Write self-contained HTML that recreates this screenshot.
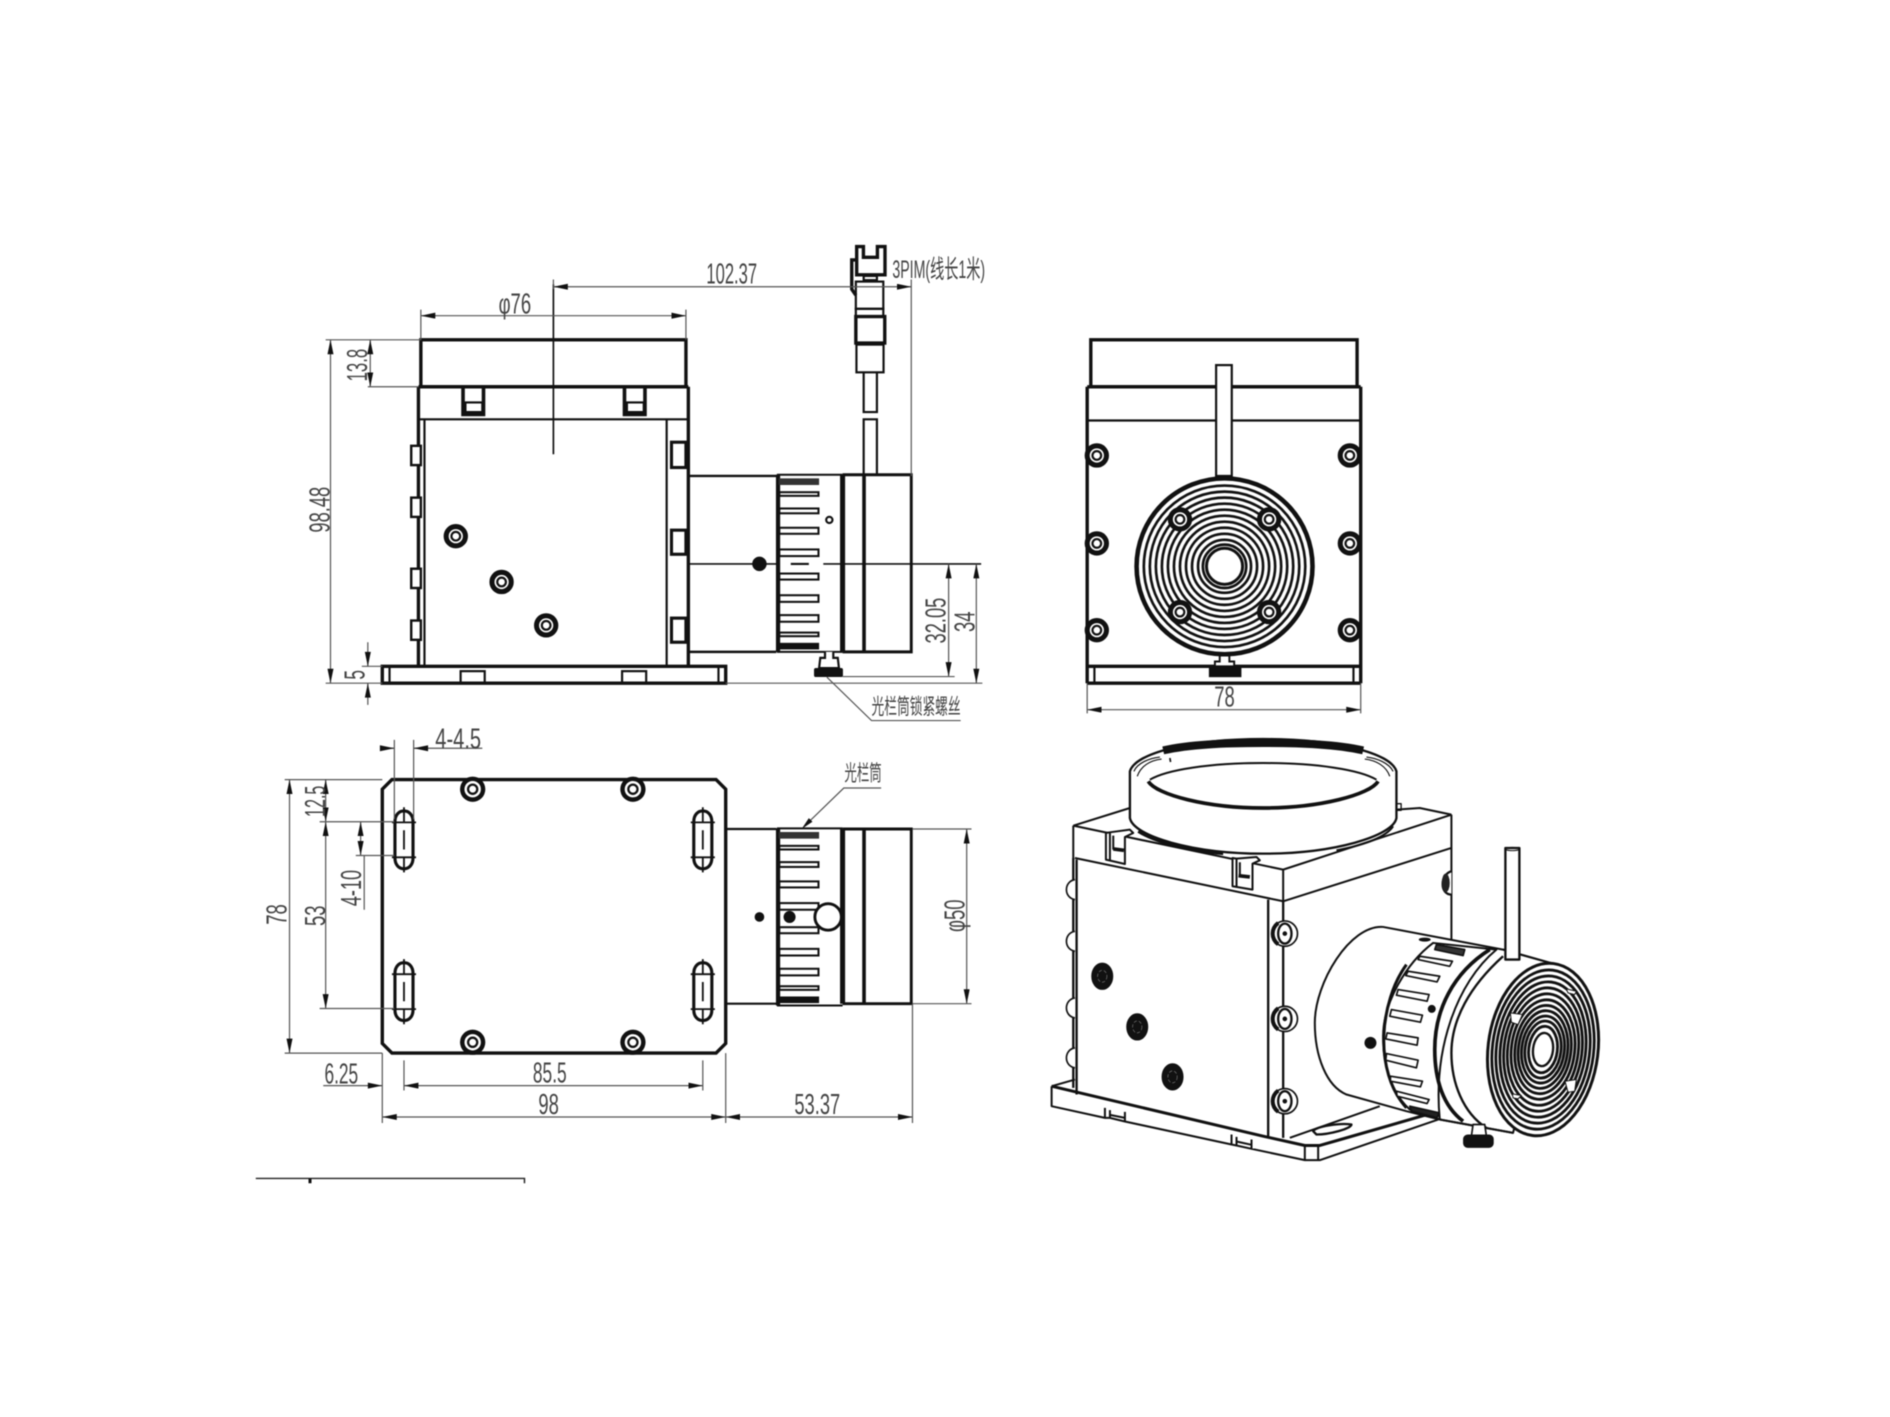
<!DOCTYPE html>
<html><head><meta charset="utf-8"><style>
html,body{margin:0;padding:0;background:#fff}
svg{display:block;filter:blur(.45px)}
text{font-family:"Liberation Sans","Noto Sans CJK SC",sans-serif;fill:#444;font-size:24px;text-anchor:middle;dominant-baseline:middle}
.t{stroke:#111;stroke-width:2.8;fill:none}
.m{stroke:#111;stroke-width:1.8;fill:none}
.d{stroke:#555;stroke-width:1;fill:none}
.a{stroke:#555;stroke-width:1;fill:none;marker-start:url(#ar);marker-end:url(#ar)}
.w{fill:#fff}
</style></head><body>
<svg width="1890" height="1417" viewBox="0 0 1568 1176" xmlns="http://www.w3.org/2000/svg">
<defs>
<marker id="ar" markerUnits="userSpaceOnUse" markerWidth="13" markerHeight="6" refX="12" refY="2.5" orient="auto-start-reverse"><path d="M0,0L12,2.5L0,5z" fill="#111"/></marker>
<g id="s"><circle r="8" fill="#fff" stroke="#111" stroke-width="4.2"/><circle r="3.6" fill="#fff" stroke="#111" stroke-width="1.8"/></g>
<g id="p"><circle r="10.5" fill="#111"/><circle r="6.8" fill="#fff"/><circle r="3.8" fill="#fff" stroke="#111" stroke-width="1.9"/></g>
<g id="k">
<path d="M644.5,394V541M644.5,394H699M644.5,541H699" fill="none" stroke="#111" stroke-width="1.6"/>
<path d="M645.5,394V541" stroke="#111" stroke-width="3.4"/>
<rect x="646" y="397" width="33.5" height="5.5" fill="#333"/><rect x="646" y="533.5" width="33.5" height="5.5" fill="#111"/>
<g fill="#fff" stroke="#111" stroke-width="1.7">
<rect x="646.5" y="408.5" width="32.5" height="3"/><rect x="646.5" y="422" width="32.5" height="4"/><rect x="646.5" y="438" width="32.5" height="5"/><rect x="646.5" y="456" width="32.5" height="5.5"/><rect x="646.5" y="476" width="32.5" height="5"/><rect x="646.5" y="494" width="32.5" height="5.5"/><rect x="646.5" y="510.5" width="32.5" height="5.5"/><rect x="646.5" y="525" width="32.5" height="3"/></g>
</g>
<g id="sl"><path d="M-7.5,-15C-7.5,-21 -4,-24 0,-24C4,-24 7.5,-21 7.5,-15V15C7.5,21 4,24 0,24C-4,24 -7.5,21 -7.5,15Z" fill="#fff" stroke="#111" stroke-width="2.6"/>
<path d="M0,-27V-15M0,-8V8M0,15V27M-10,-14.5H10M-10,14.5H10" stroke="#111" stroke-width="1.5"/></g>
<g id="es"><ellipse rx="38" ry="38" fill="#fff" stroke="#111" stroke-width="5"/><path d="M-20,-32C-42,-15 -42,15 -20,32" fill="none" stroke="#111" stroke-width="12"/><ellipse rx="20" ry="30" fill="#fff" stroke="#111" stroke-width="7"/><circle r="4" fill="#111"/></g>
<g id="fs"><ellipse rx="30" ry="38" fill="#111"/><ellipse rx="14" ry="18" fill="none" stroke="#777" stroke-width="2" stroke-dasharray="10 6"/></g>
<g id="bp"><path d="M30,-30C-4,-25 -4,25 30,30" fill="#fff" stroke="#111" stroke-width="5"/></g>
</defs>

<!-- FRONT VIEW -->
<rect x="349" y="282" width="220" height="39" class="t"/>
<path class="t" stroke-width="3" d="M347,321H571M347,321V553M571,321V553"/>
<path class="m" d="M352,348V553M553,348V553M347,348H571"/>
<path stroke="#111" stroke-width="3" fill="none" d="M384,322V344H401V322M518,322V344H535V322"/>
<rect x="386" y="334" width="14" height="8" class="m"/><rect x="520" y="334" width="14" height="8" class="m"/>
<path d="M459,236V377" stroke="#111" stroke-width="1.4"/>
<g stroke="#111" stroke-width="2" fill="#fff"><rect x="341" y="370" width="8" height="16"/><rect x="341" y="413" width="8" height="16"/><rect x="341" y="472" width="8" height="16"/><rect x="341" y="515" width="8" height="16"/>
<rect x="557" y="367" width="12" height="21" stroke-width="2.6"/><rect x="557" y="440" width="12" height="20" stroke-width="2.6"/><rect x="557" y="513" width="12" height="20" stroke-width="2.6"/></g>
<use href="#s" x="378" y="445"/><use href="#s" x="416" y="483"/><use href="#s" x="453" y="519"/>
<rect x="317" y="553" width="285" height="14" class="t"/>
<path class="m" d="M323,553V567M596,553V567"/>
<rect x="382" y="557" width="20" height="10" class="m" stroke-width="2.2"/><rect x="516" y="557" width="20" height="10" class="m" stroke-width="2.2"/>
<path fill="none" stroke="#111" stroke-width="2" d="M571,395H644M571,541H644"/>
<use href="#k"/>
<path d="M699,394V541" stroke="#111" stroke-width="4.2"/><path d="M716.8,394V541" stroke="#111" stroke-width="3"/>
<path d="M699,394H756V541H699" fill="none" stroke="#111" stroke-width="2.4"/>
<path d="M571,468H645M683,468H814" stroke="#111" stroke-width="1.3"/><path d="M656,468H671" stroke="#111" stroke-width="1.8"/>
<circle cx="630" cy="468" r="6" fill="#111"/><circle cx="688" cy="431.5" r="2.6" fill="#fff" stroke="#111" stroke-width="1.8"/>
<path d="M684.4,541V546H680.5L679.5,554.5H696L695,546H691.3V541" fill="#fff" stroke="#111" stroke-width="1.8"/><rect x="675.3" y="554.4" width="24" height="7.5" rx="1.5" fill="#111"/>
<g class="m" stroke-width="2.2">
<path class="m" stroke-width="2.2" d="M716.5,309V342H727.5V309M716.5,393V348H727.5V393"/>
<rect x="710.5" y="286" width="22.5" height="23" class="m"/><rect x="710" y="233.7" width="22.8" height="22.6" class="m"/><rect x="710" y="256.3" width="22.8" height="6.4" class="m"/><rect x="710" y="262.7" width="24" height="22" class="t" stroke-width="2.4"/>
<path class="t" stroke-width="2.3" d="M710.7,204.6H716.3V213.5H727.9V204.6H734.2V228.1H710.7Z"/><rect x="716.5" y="229" width="11" height="3.5" class="m"/>
<path class="t" stroke-width="2.2" d="M710,215.7H706.6V240L710,245"/></g>
<path class="a" d="M459,238H756"/><path class="d" d="M459,232V240M756,232V395"/>
<text x="607" y="229" textLength="42" lengthAdjust="spacingAndGlyphs">102.37</text>
<text x="778.8" y="225" textLength="77" lengthAdjust="spacingAndGlyphs" style="font-size:21px">3PIM(线长1米)</text>
<path class="a" d="M349,262H569"/><path class="d" d="M349,257V282M569,257V282"/>
<text x="427" y="254" textLength="27" lengthAdjust="spacingAndGlyphs">φ76</text>
<path class="a" d="M274,282V567"/><path class="d" d="M270,282H349M270,567H317"/>
<text transform="rotate(-90 267 423)" x="267" y="423" textLength="38" lengthAdjust="spacingAndGlyphs">98.48</text>
<path class="a" d="M307,282V321"/><path class="d" d="M305,321H347"/>
<text transform="rotate(-90 298 303)" x="298" y="303" textLength="27" lengthAdjust="spacingAndGlyphs">13.8</text>
<path class="d" d="M305,533V553M305,567V585M300,553H317"/><path d="M305,553l-2.5,-12h5zM305,567l-2.5,12h5z" fill="#111"/>
<text transform="rotate(-90 296 560)" x="296" y="560" textLength="8" lengthAdjust="spacingAndGlyphs">5</text>
<path class="a" d="M787,468V561.5"/><path class="d" d="M699,561.5H792M602,567H815"/>
<text transform="rotate(-90 778 515)" x="778" y="515" textLength="38" lengthAdjust="spacingAndGlyphs">32.05</text>
<path class="a" d="M810,468V567"/>
<text transform="rotate(-90 802 516)" x="802" y="516" textLength="17" lengthAdjust="spacingAndGlyphs">34</text>
<path class="d" d="M686,562L723,598H797"/>
<text x="760" y="588" textLength="74" lengthAdjust="spacingAndGlyphs" style="font-size:18px">光栏筒锁紧螺丝</text>

<!-- SIDE VIEW -->
<rect x="905" y="282" width="221" height="39" class="t"/>
<path class="t" d="M902,321H1129M902,321V567M1129,321V567"/>
<path class="m" d="M902,349H1129"/>
<g fill="none" stroke="#111" stroke-width="2.2">
<circle cx="1016" cy="470" r="73" stroke-width="3.8"/><circle cx="1016" cy="470" r="67"/><circle cx="1016" cy="470" r="62"/><circle cx="1016" cy="470" r="57"/><circle cx="1016" cy="470" r="52"/><circle cx="1016" cy="470" r="47"/><circle cx="1016" cy="470" r="42"/><circle cx="1016" cy="470" r="37"/><circle cx="1016" cy="470" r="32"/><circle cx="1016" cy="470" r="27"/><circle cx="1016" cy="470" r="22"/><circle cx="1016" cy="470" r="18"/></g>
<circle cx="1016" cy="470" r="15" fill="#fff" stroke="#111" stroke-width="2.5"/>
<use href="#s" x="979" y="431"/><use href="#s" x="1053" y="431"/><use href="#s" x="979" y="508"/><use href="#s" x="1053" y="508"/>
<use href="#s" x="910" y="378"/><use href="#s" x="910" y="451"/><use href="#s" x="910" y="523"/><use href="#s" x="1120" y="378"/><use href="#s" x="1120" y="451"/><use href="#s" x="1120" y="523"/>
<rect x="1009" y="303" width="13" height="92" fill="#fff" stroke="#111" stroke-width="1.8"/>
<path class="t" d="M902,553H1129M902,567H1129"/><path class="m" d="M908,553V567M1123,553V567"/>
<path d="M1012,544H1020V549H1024V553H1008V549H1012Z" fill="#fff" stroke="#111" stroke-width="1.6"/><rect x="1003" y="553" width="27" height="9" fill="#111"/>
<path class="a" d="M902,589H1129"/><path class="d" d="M902,567V592M1129,567V592"/>
<text x="1016" y="580" textLength="17" lengthAdjust="spacingAndGlyphs">78</text>

<!-- PLAN VIEW -->
<path class="t" d="M325,647H594L602,655V866L594,874H325L317,866V655Z"/>
<use href="#sl" x="335" y="697"/><use href="#sl" x="583" y="697"/><use href="#sl" x="335" y="823"/><use href="#sl" x="583" y="823"/>
<use href="#p" x="392" y="655"/><use href="#p" x="525" y="655"/><use href="#p" x="392" y="865"/><use href="#p" x="525" y="865"/>
<path fill="none" stroke="#111" stroke-width="1.8" d="M602,688H644M602,833H644"/>
<g transform="translate(0,293.5)"><use href="#k"/></g>
<path d="M699,688V833" stroke="#111" stroke-width="4.2"/><path d="M716.8,688V833" stroke="#111" stroke-width="3"/>
<path d="M699,688H756V833H699" fill="none" stroke="#111" stroke-width="2.4"/>
<circle cx="687" cy="761" r="11" fill="#fff" stroke="#111" stroke-width="2.4"/>
<circle cx="630" cy="761" r="4" fill="#111"/><circle cx="655" cy="761" r="5" fill="#111"/>
<path class="d" d="M316,621H327M343,621H400M327,614V680M343,614V680"/><path d="M327,621l-12,-2.5v5zM343,621l12,-2.5v5z" fill="#111"/>
<text x="380" y="615" textLength="38" lengthAdjust="spacingAndGlyphs">4-4.5</text>
<path class="a" d="M240,647V874"/><path class="d" d="M236,647H317M236,874H317"/>
<text transform="rotate(-90 231 759)" x="231" y="759" textLength="17" lengthAdjust="spacingAndGlyphs">78</text>
<path class="a" d="M270,647V682"/><path class="a" d="M270,682V837"/><path class="d" d="M265,682H327M265,837H327"/>
<text transform="rotate(-90 263 665)" x="263" y="665" textLength="26" lengthAdjust="spacingAndGlyphs">12.5</text>
<text transform="rotate(-90 263 760)" x="263" y="760" textLength="17" lengthAdjust="spacingAndGlyphs">53</text>
<path class="a" d="M299,682V710"/><path class="d" d="M295,710H327M302,710V755"/>
<text transform="rotate(-90 293 737)" x="293" y="737" textLength="30" lengthAdjust="spacingAndGlyphs">4-10</text>
<path class="a" d="M335,901H583"/><path class="d" d="M268,901H317M335,880V905M583,880V905"/><path d="M317,901l-12,-2.5v5z" fill="#111"/>
<text x="283" y="893" textLength="28" lengthAdjust="spacingAndGlyphs">6.25</text>
<text x="456" y="892" textLength="28" lengthAdjust="spacingAndGlyphs">85.5</text>
<path class="a" d="M317,927H602"/><path class="a" d="M602,927H757"/><path class="d" d="M317,874V932M602,874V932M757,833V932"/>
<text x="455" y="918" textLength="17" lengthAdjust="spacingAndGlyphs">98</text>
<text x="678" y="918" textLength="38" lengthAdjust="spacingAndGlyphs">53.37</text>
<path class="a" d="M802,688V833"/><path class="d" d="M757,688H806M757,833H806"/>
<text transform="rotate(-90 794 760)" x="794" y="760" textLength="27" lengthAdjust="spacingAndGlyphs">φ50</text>
<path class="d" d="M667,686L700,654H731"/><path d="M665,688l6,-9l3,3z" fill="#111"/>
<text x="716" y="643" textLength="31" lengthAdjust="spacingAndGlyphs" style="font-size:18px">光栏筒</text>
<path d="M212,978H435V982" fill="none" stroke="#222" stroke-width="1.2"/><path d="M257,978V982" stroke="#111" stroke-width="2.5"/>

<!-- ISO VIEW -->
<g transform="translate(871.1,605.6) scale(.2765)" stroke="#111" fill="none" stroke-linejoin="round" stroke-width="6">
<!-- base -->
<path stroke-width="9" d="M5,1070L640,1220L765,1248H810L1150,1150"/>
<path d="M5,1070V1130L165,1165V1135M180,1142V1165L225,1176V1147M165,1165L180,1165M225,1176L545,1245V1215M560,1222V1248L605,1258V1230M545,1245L560,1248M605,1258L765,1292H810L1165,1170"/>
<path d="M765,1248V1292M805,1248V1292M5,1070L75,1050M720,1225L990,1130M180,1156L225,1165M560,1236L605,1246"/>
<path stroke-width="7" d="M790,1205C800,1190 870,1180 905,1185C905,1197 840,1215 800,1215Z"/>
<!-- body -->
<path d="M70,288L240,235M1040,240L1110,235L1205,255M700,420L1205,255M700,515L1205,355M1205,255V630M70,288L700,420M70,288V385M75,385L700,515M700,420V515"/>
<path stroke-width="7" d="M80,390V1095M70,385V1075M655,510V1220M700,515V1225"/>
<use href="#bp" x="45" y="480"/><use href="#bp" x="45" y="635"/><use href="#bp" x="45" y="835"/><use href="#bp" x="45" y="985"/>
<use href="#fs" x="157" y="740"/><use href="#fs" x="262" y="892"/><use href="#fs" x="368" y="1042"/>
<use href="#es" x="705" y="612"/><use href="#es" x="705" y="868"/><use href="#es" x="705" y="1115"/>
<path fill="#fff" stroke-width="7" d="M1205,425C1170,435 1170,495 1205,495"/><ellipse cx="1188" cy="460" rx="12" ry="28" fill="#222" stroke="none"/>
<!-- ring -->
<path fill="#fff" stroke-width="7" d="M240,125C255,70 420,28 640,28C860,28 1025,70 1040,125V265C1030,320 850,372 640,372C430,372 250,320 240,265Z"/>
<path stroke-width="24" d="M340,62C420,44 520,40 640,40C760,40 860,44 940,62"/>
<path stroke-width="3.5" d="M252,125C262,100 300,85 330,82M262,140C272,110 300,92 335,88M1030,125C1018,100 980,85 950,82M1020,140C1010,110 980,92 945,88"/>
<path stroke-width="6" d="M300,150C350,120 480,100 640,100C800,100 930,120 980,150"/>
<path stroke-width="11" d="M295,155C320,195 470,235 640,235C810,235 960,195 985,155"/>
<path stroke-width="9" d="M265,305C320,340 430,365 520,372"/><path stroke-width="6" d="M860,362C950,345 1010,320 1030,290"/>
<path stroke-width="4" d="M1040,222h14v20h-14z"/><path stroke-width="5" d="M360,85l2,12"/>
<!-- tabs -->
<g fill="#fff"><path d="M168,310V390L225,403V322L250,310L240,300L180,308Z"/><path d="M180,310V392M190,318V360"/><path d="M548,385V470L608,480V402L630,392L620,382L560,387Z"/><path d="M560,388V472M570,398V435"/></g>
<path stroke-width="11" d="M190,358L222,362M566,438L600,442"/>
<!-- rod + barrel -->
<g transform="translate(750,360)">
<path fill="#fff" stroke-width="6" d="M610,300L250,232C150,225 45,400 45,520C45,620 80,710 140,735L320,785L420,810L640,850L770,345Z"/>
<path fill="#fff" stroke-width="6" d="M400,280C320,340 250,460 250,560C250,650 275,730 330,780L420,810C400,600 470,400 590,300Z"/>
<path stroke-width="11" d="M570,300C460,370 405,480 405,600C405,690 430,770 490,815"/>
<path stroke-width="7" d="M610,320C510,410 455,510 455,610C455,700 490,790 560,835"/>
<path stroke-width="9" d="M320,345C280,400 255,480 252,560C250,640 270,720 320,775"/>
<path d="M610,300L770,345M420,810L640,850" stroke-width="6"/>
<g fill="#fff" stroke-width="5">
<path fill="#333" d="M410,285L495,300L490,318L405,300Z"/><path d="M360,320L458,335L450,350L355,330ZM325,365L420,380L412,397L318,378ZM295,420L388,435L382,455L290,437ZM275,480L368,497L362,518L270,500ZM262,550L355,565L352,587L258,568ZM260,612L355,632L350,655L258,632ZM272,680L368,695L362,712L272,695ZM290,725L388,750L382,762L292,740Z"/><path fill="#222" d="M330,770L418,790L412,805L335,785Z"/></g>
<circle cx="212" cy="580" r="18" fill="#111" stroke="none"/><circle cx="396" cy="478" r="12" fill="#111" stroke="none"/><ellipse cx="375" cy="270" rx="18" ry="6" fill="#111" stroke="none"/>
<rect x="617" y="-5" width="42" height="335" fill="#fff" stroke-width="7"/><ellipse cx="638" cy="-2" rx="20" ry="5" stroke-width="3"/>
<path fill="#fff" stroke-width="5" d="M515,860L520,825H555L560,860Z"/><rect x="490" y="855" width="92" height="40" rx="14" fill="#111" stroke="none"/>
<g transform="rotate(7 730 600)" stroke-width="8.5">
<ellipse cx="730" cy="600" rx="165" ry="260" fill="#fff" stroke-width="9"/>
<ellipse cx="730" cy="600" rx="152" ry="240"/><ellipse cx="730" cy="600" rx="140" ry="222"/><ellipse cx="730" cy="600" rx="128" ry="204"/><ellipse cx="730" cy="600" rx="117" ry="186"/><ellipse cx="730" cy="600" rx="106" ry="168"/><ellipse cx="730" cy="600" rx="95" ry="150"/><ellipse cx="730" cy="600" rx="84" ry="133"/><ellipse cx="730" cy="600" rx="74" ry="117"/><ellipse cx="730" cy="600" rx="64" ry="101"/><ellipse cx="730" cy="600" rx="54" ry="86"/><ellipse cx="730" cy="600" rx="43" ry="70"/>
<ellipse cx="730" cy="600" rx="30" ry="50" fill="#fff" stroke-width="7"/>
</g>
<g fill="#fff" stroke-width="3"><path d="M632,490L668,495L655,525L635,518ZM796,695L830,690L825,725L805,728ZM638,733L665,738L655,748L640,745ZM800,418L830,425L825,435L805,430Z"/></g>
</g>
</g>
</svg>
</body></html>
